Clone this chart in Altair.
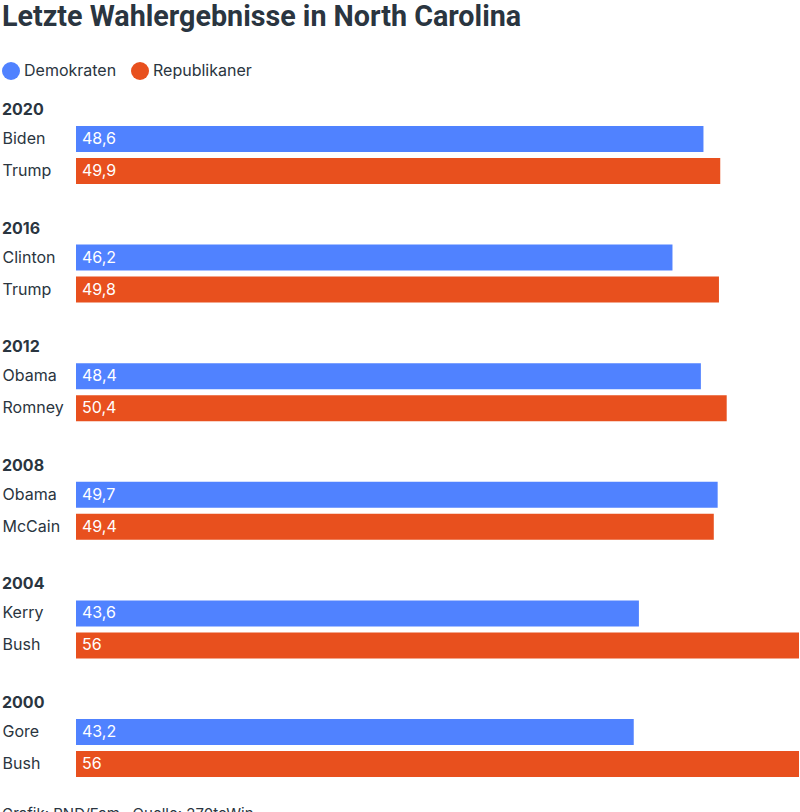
import altair as alt
import pandas as pd

years = ["2020", "2016", "2012", "2008", "2004", "2000"]
dem_names = ["Biden", "Clinton", "Obama", "Obama", "Kerry", "Gore"]
dem_values = [48.6, 46.2, 48.4, 49.7, 43.6, 43.2]
rep_names = ["Trump", "Trump", "Romney", "McCain", "Bush", "Bush"]
rep_values = [49.9, 49.8, 50.4, 49.4, 56, 56]
parties = ["Demokraten", "Republikaner"]
colors = ["#5082FF", "#E8501E"]
title_text = "Letzte Wahlergebnisse in North Carolina"
footer_text = "Grafik: RND/Fam  ·  Quelle: 270toWin"

rows = []
for i, y in enumerate(years):
    rows.append({"year": y, "name": dem_names[i], "value": dem_values[i], "party": parties[0], "order": 0})
    rows.append({"year": y, "name": rep_names[i], "value": rep_values[i], "party": parties[1], "order": 1})
df = pd.DataFrame(rows)
df["label"] = df["value"].map(lambda v: f"{v:g}".replace(".", ","))

FONT = "Inter"
DARK = "#2A3540"

x_enc = alt.X("value:Q", scale=alt.Scale(domain=[0, 56], nice=False, zero=True), axis=None)


def panel(year, show_legend, with_footer):
    base = alt.Chart(df).transform_filter(alt.datum.year == year)
    y_enc = alt.Y(
        "name:N",
        sort=alt.EncodingSortField(field="order", order="ascending"),
        scale=alt.Scale(paddingInner=0.1875, paddingOuter=0),
        axis=alt.Axis(
            title=None, ticks=False, domain=False, labelAlign="left", labelPadding=74,
            labelFont=FONT, labelFontSize=16, labelColor=DARK, grid=False,
        ),
    )
    bars = base.mark_bar(cornerRadius=0).encode(
        x=x_enc,
        y=y_enc,
        color=alt.Color(
            "party:N",
            scale=alt.Scale(domain=parties, range=colors),
            legend=alt.Legend(
                title=None, orient="none", legendX=-74, legendY=-64, direction="horizontal",
                symbolType="circle", symbolSize=324, symbolStrokeWidth=0, symbolOpacity=1,
                labelFont=FONT, labelFontSize=16, labelColor=DARK, columnPadding=14, labelOffset=4,
            ) if show_legend else None,
        ),
    )
    texts = base.mark_text(align="left", baseline="middle", dx=6, color="white", font=FONT, fontSize=16).encode(
        x=alt.datum(0),
        y=y_enc,
        text="label:N",
    )
    layers = [bars, texts]
    if with_footer:
        foot = alt.Chart(pd.DataFrame({"t": [footer_text]})).mark_text(
            align="left", baseline="top", font=FONT, fontSize=15, color=DARK
        ).encode(x=alt.value(-74), y=alt.value(88), text="t:N")
        layers.append(foot)
    return alt.layer(*layers).properties(
        width=723,
        height=58,
        title=alt.TitleParams(
            text=year, anchor="start", font=FONT, fontSize=16, fontWeight="bold", color=DARK, offset=8,
        ),
    )


panels = [panel(y, i == 0, i == len(years) - 1) for i, y in enumerate(years)]

chart = alt.vconcat(*panels, spacing=36.6).properties(
    title=alt.TitleParams(
        text=title_text, anchor="start", font="Roboto", fontSize=28.7, fontWeight="bold", color=DARK, offset=30,
    ),
    padding={"left": 2, "top": 3, "right": 0, "bottom": 0},
).configure_view(stroke=None).configure_concat(spacing=36.6)

chart.save("out.html", embed_options={"renderer": "svg", "actions": False})
